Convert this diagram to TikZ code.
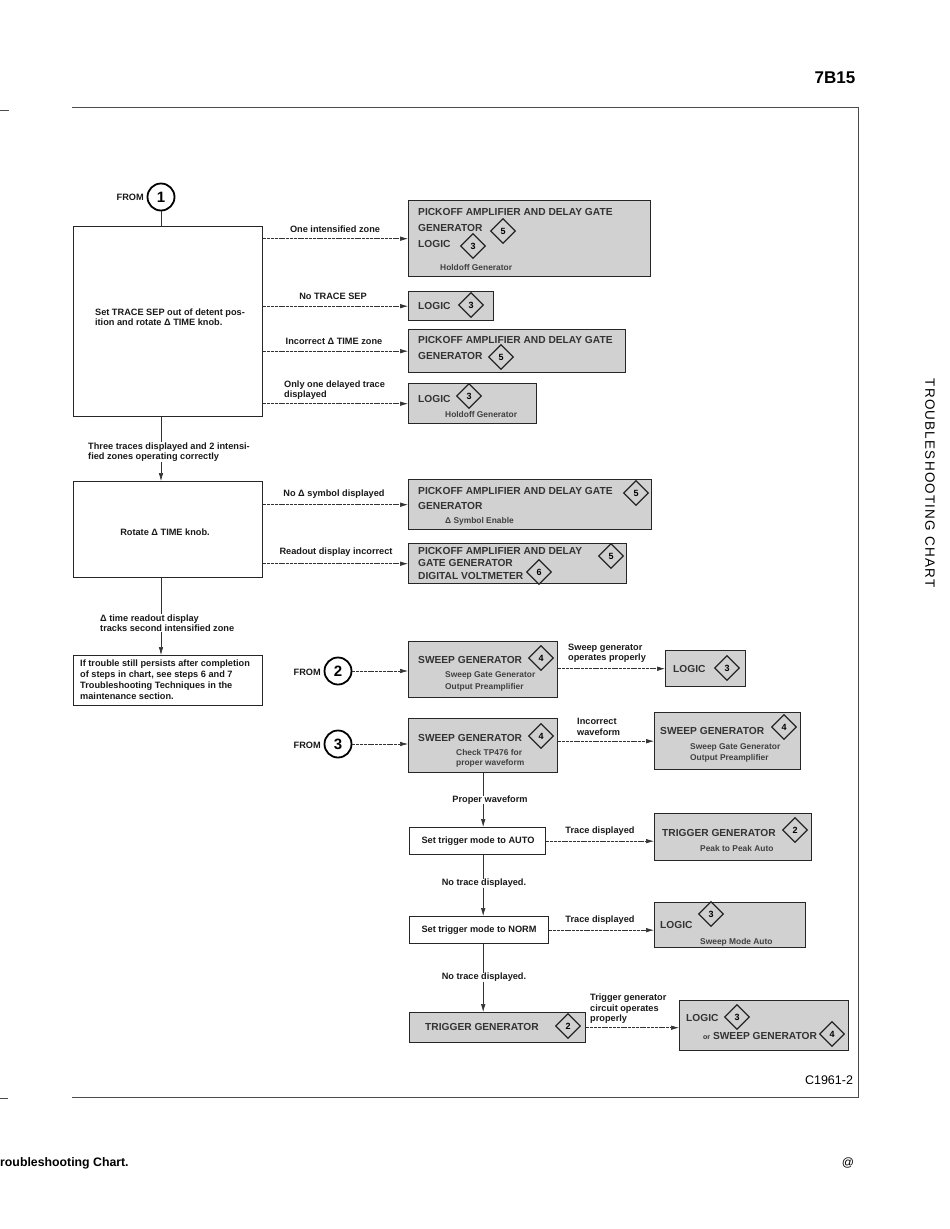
\documentclass[tikz,border=0pt]{standalone}
\usepackage{fontspec}
\setmainfont{Liberation Sans}
\usetikzlibrary{shapes.geometric,arrows.meta}
\begin{document}
\begin{tikzpicture}[x=1pt,y=-1pt,
  wbox/.style={draw=black!85, line width=1.3pt, fill=white, inner sep=0pt, anchor=north west},
  gbox/.style={draw=black!85, line width=1.4pt, fill=black!18, inner sep=0pt, anchor=north west},
  lbl/.style={font=\fontsize{9.2}{10.5}\selectfont\bfseries, inner sep=0pt, align=left, text=black!90},
  btx/.style={font=\fontsize{10.2}{12}\selectfont\bfseries, inner sep=0pt, anchor=west, text=black!80},
  stx/.style={font=\fontsize{8.4}{10}\selectfont\bfseries, inner sep=0pt, anchor=west, text=black!75},
  dia/.style={diamond, draw=black!85, line width=1.3pt, minimum width=25pt, minimum height=25pt, inner sep=0pt, font=\fontsize{9}{9}\selectfont\bfseries},
  arr/.style={-{Latex[length=8pt,width=4.5pt]}, line width=0.6pt, draw=black!80},
  harr/.style={arr, dash pattern=on 3pt off 0.8pt},
  ln/.style={line width=0.8pt, draw=black!80},
  fromc/.style={circle, draw, line width=1.8pt, minimum size=27pt, inner sep=0pt, font=\fontsize{15}{15}\selectfont\bfseries},
  frame/.style={line width=0.9pt, draw=black!70}
]
\useasboundingbox[fill=white] (0,0) rectangle (950,1229);

% page furniture
\node[font=\fontsize{17}{17}\selectfont\bfseries, inner sep=0pt] (hdr) at (835,78) {7B15};
\node[font=\fontsize{13.5}{13.5}\selectfont\addfontfeature{LetterSpace=9}, inner sep=0pt, rotate=-90] (side) at (930,483) {TROUBLESHOOTING CHART};
\node[font=\fontsize{12.5}{12.5}\selectfont, inner sep=0pt] (cnum) at (829,1080) {C1961-2};
\node[font=\fontsize{12.3}{12.3}\selectfont\bfseries, inner sep=0pt, anchor=west] (cap) at (0,1163) {roubleshooting Chart.};
\node[font=\fontsize{12}{12}\selectfont, inner sep=0pt] (at) at (848,1163) {@};
\coordinate (ftl) at (72,107);
\coordinate (ftr) at (858,107);
\coordinate (fbr) at (858,1097);
\coordinate (fbl) at (72,1097);
\draw[frame] (ftl) -- (ftr) -- (fbr) -- (fbl);
\coordinate (t1a) at (0,110); \coordinate (t1b) at (9,110);
\coordinate (t2a) at (0,1098); \coordinate (t2b) at (8,1098);
\draw[frame] (t1a) -- (t1b);
\draw[frame] (t2a) -- (t2b);

% left column
\node[fromc] (fr1) at (161,197) {1};
\node[lbl, anchor=east] (fr1t) at (144,197) {FROM};
\node[wbox, minimum width=189, minimum height=190] (b1) at (73,226) {};
\node[lbl] (b1t) at (170,317) {Set TRACE SEP out of detent pos-\\ition and rotate \char"0394\ TIME knob.};
\node[wbox, minimum width=189, minimum height=96] (b2) at (73,481) {};
\node[lbl] (b2t) at (165,532) {Rotate \char"0394\ TIME knob.};
\node[wbox, minimum width=189, minimum height=50] (b3) at (73,655) {};
\node[lbl, anchor=west, font=\fontsize{9.2}{11}\selectfont\bfseries] (b3t) at (80,680) {If trouble still persists after completion\\of steps in chart, see steps 6 and 7\\Troubleshooting Techniques in the\\maintenance section.};

\node[lbl, anchor=west] (lt) at (88,452) {Three traces displayed and 2 intensi-\\fied zones operating correctly};
\node[lbl, anchor=west] (ld) at (100,623) {\char"0394\ time readout display\\tracks second intensified zone};

\draw[ln] (fr1.south) -- (fr1.south |- b1.north);
\draw[ln] (fr1 |- b1.south) -- (fr1 |- lt.north);
\draw[arr] (fr1 |- lt.south) -- (fr1 |- b2.north);
\draw[ln] (fr1 |- b2.south) -- (fr1 |- ld.north);
\draw[arr] (fr1 |- ld.south) -- (fr1 |- b3.north);

% right targets of box 1
\node[gbox, minimum width=242, minimum height=76] (g1) at (408,200) {};
\node[btx] (g1a) at (418,212) {PICKOFF AMPLIFIER AND DELAY GATE};
\node[btx] (g1b) at (418,228) {GENERATOR};
\node[dia] (g1d5) at (503,231) {5};
\node[btx] (g1c) at (418,244) {LOGIC};
\node[dia] (g1d3) at (473,246) {3};
\node[stx] (g1e) at (440,267) {Holdoff Generator};

\node[gbox, minimum width=85, minimum height=29] (g2) at (408,291) {};
\node[btx] (g2a) at (418,306) {LOGIC};
\node[dia] (g2d3) at (471,305) {3};

\node[gbox, minimum width=217, minimum height=43] (g3) at (408,329) {};
\node[btx] (g3a) at (418,340) {PICKOFF AMPLIFIER AND DELAY GATE};
\node[btx] (g3b) at (418,356) {GENERATOR};
\node[dia] (g3d5) at (501,357) {5};

\node[gbox, minimum width=128, minimum height=40] (g4) at (408,383) {};
\node[btx] (g4a) at (418,399) {LOGIC};
\node[dia] (g4d3) at (469,396) {3};
\node[stx] (g4b) at (445,414) {Holdoff Generator};

\node[lbl] (l1) at (335,229) {One intensified zone};
\node[lbl] (l2) at (333,296) {No TRACE SEP};
\node[lbl] (l3) at (334,341) {Incorrect \char"0394\ TIME zone};
\node[lbl, anchor=west] (l4) at (284,390) {Only one delayed trace\\displayed};
\draw[harr] (b1.east |- g1.west) -- (g1.west);
\draw[harr] (b1.east |- g2.west) -- (g2.west);
\draw[harr] (b1.east |- g3.west) -- (g3.west);
\draw[harr] (b1.east |- g4.west) -- (g4.west);

% right targets of box 2
\node[gbox, minimum width=243, minimum height=50] (g5) at (408,479) {};
\node[btx] (g5a) at (418,491) {PICKOFF AMPLIFIER AND DELAY GATE};
\node[dia] (g5d5) at (636,493) {5};
\node[btx] (g5b) at (418,506) {GENERATOR};
\node[stx] (g5c) at (445,521) {\char"0394\ Symbol Enable};

\node[gbox, minimum width=218, minimum height=40] (g6) at (408,543) {};
\node[btx] (g6a) at (418,551) {PICKOFF AMPLIFIER AND DELAY};
\node[dia] (g6d5) at (611,556) {5};
\node[btx] (g6b) at (418,563) {GATE GENERATOR};
\node[btx] (g6c) at (418,576) {DIGITAL VOLTMETER};
\node[dia] (g6d6) at (539,572) {6};

\node[lbl] (l5) at (334,494) {No \char"0394\ symbol displayed};
\node[lbl] (l6) at (336,552) {Readout display incorrect};
\draw[harr] (b2.east |- g5.west) -- (g5.west);
\draw[harr] (b2.east |- g6.west) -- (g6.west);

% FROM 2
\node[fromc] (fr2) at (338,671) {2};
\node[lbl, anchor=east] (fr2t) at (321,672) {FROM};
\node[gbox, minimum width=149, minimum height=56] (g7) at (408,641) {};
\node[btx] (g7a) at (418,660) {SWEEP GENERATOR};
\node[dia] (g7d4) at (541,658) {4};
\node[stx] (g7b) at (445,675) {Sweep Gate Generator};
\node[stx] (g7c) at (445,687) {Output Preamplifier};
\node[gbox, minimum width=80, minimum height=36] (g8) at (665,650) {};
\node[btx] (g8a) at (673,669) {LOGIC};
\node[dia] (g8d3) at (727,668) {3};
\node[lbl, anchor=west] (l7) at (568,653) {Sweep generator\\operates properly};
\draw[harr] (fr2.east) -- (g7.west |- fr2.east);
\draw[harr] (g7.east |- g8.west) -- (g8.west);

% FROM 3
\node[fromc] (fr3) at (338,744) {3};
\node[lbl, anchor=east] (fr3t) at (321,745) {FROM};
\node[gbox, minimum width=149, minimum height=54] (g9) at (408,718) {};
\node[btx] (g9a) at (418,738) {SWEEP GENERATOR};
\node[dia] (g9d4) at (541,736) {4};
\node[stx] (g9b) at (456,752) {Check TP476 for};
\node[stx] (g9c) at (456,763) {proper waveform};
\node[gbox, minimum width=146, minimum height=57] (g10) at (654,712) {};
\node[btx] (g10a) at (660,731) {SWEEP GENERATOR};
\node[dia] (g10d4) at (784,727) {4};
\node[stx] (g10b) at (690,747) {Sweep Gate Generator};
\node[stx] (g10c) at (690,758) {Output Preamplifier};
\node[lbl, anchor=west] (l8) at (577,727) {Incorrect\\waveform};
\draw[harr] (fr3.east) -- (g9.west |- fr3.east);
\draw[harr] (g9.east |- g10.west) -- (g10.west);

% trigger chain
\node[lbl] (lp) at (490,800) {Proper waveform};
\node[wbox, minimum width=136, minimum height=27] (w1) at (409,827) {};
\node[lbl] (w1t) at (478,841) {Set trigger mode to AUTO};
\node[gbox, minimum width=157, minimum height=47] (g11) at (654,813) {};
\node[btx] (g11a) at (662,833) {TRIGGER GENERATOR};
\node[dia] (g11d2) at (795,830) {2};
\node[stx] (g11b) at (700,848) {Peak to Peak Auto};
\node[lbl] (la) at (600,831) {Trace displayed};

\node[lbl] (ln1) at (484,883) {No trace displayed.};
\node[wbox, minimum width=139, minimum height=27] (w2) at (409,916) {};
\node[lbl] (w2t) at (479,930) {Set trigger mode to NORM};
\node[gbox, minimum width=151, minimum height=45] (g12) at (654,902) {};
\node[btx] (g12a) at (660,925) {LOGIC};
\node[dia] (g12d3) at (711,914) {3};
\node[stx] (g12b) at (700,942) {Sweep Mode Auto};
\node[lbl] (lb) at (600,920) {Trace displayed};

\node[lbl] (ln2) at (484,977) {No trace displayed.};
\node[gbox, minimum width=176, minimum height=30] (g13) at (409,1012) {};
\node[btx] (g13a) at (425,1027) {TRIGGER GENERATOR};
\node[dia] (g13d2) at (568,1026) {2};
\node[gbox, minimum width=169, minimum height=50] (g14) at (679,1000) {};
\node[btx] (g14a) at (686,1018) {LOGIC};
\node[dia] (g14d3) at (737,1017) {3};
\node[btx] (g14b) at (703,1036) {{\fontsize{7}{7}\selectfont or} SWEEP GENERATOR};
\node[dia] (g14d4) at (832,1034) {4};
\node[lbl, anchor=west] (lc) at (590,1009) {Trigger generator\\circuit operates\\properly};

\draw[ln] (g9.south) -- (g9.south |- lp.north);
\draw[arr] (g9.south |- lp.south) -- (g9.south |- w1.north);
\draw[ln] (g9.south |- w1.south) -- (g9.south |- ln1.north);
\draw[arr] (g9.south |- ln1.south) -- (g9.south |- w2.north);
\draw[ln] (g9.south |- w2.south) -- (g9.south |- ln2.north);
\draw[arr] (g9.south |- ln2.south) -- (g9.south |- g13.north);
\draw[harr] (w1.east) -- (g11.west |- w1.east);
\draw[harr] (w2.east) -- (g12.west |- w2.east);
\draw[harr] (g13.east) -- (g14.west |- g13.east);
\end{tikzpicture}
\end{document}
